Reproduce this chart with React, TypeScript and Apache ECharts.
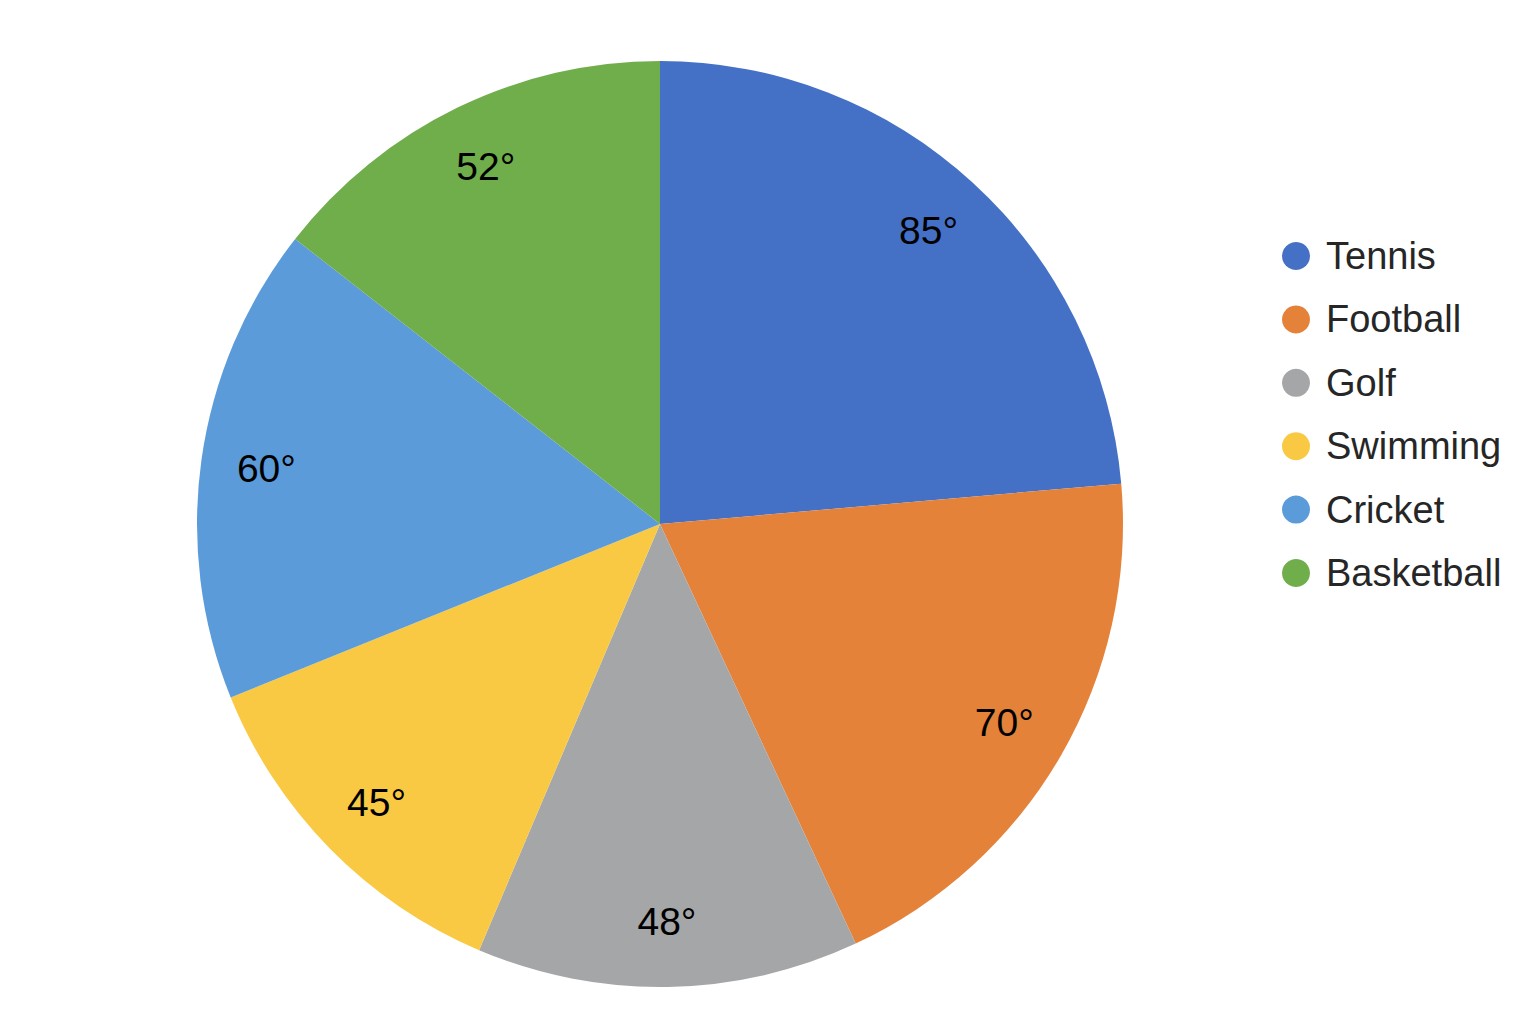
import React, { useEffect, useRef } from "react";
import * as echarts from "echarts";

const categories = ["Tennis", "Football", "Golf", "Swimming", "Cricket", "Basketball"];
const values = [85, 70, 48, 45, 60, 52];
const colors = ["#4470C6", "#E5823A", "#A5A6A8", "#F9C943", "#5B9BD9", "#70AD4B"];

export default function App() {
  const ref = useRef<HTMLDivElement>(null);
  useEffect(() => {
    if (!ref.current) return;
    const chart = echarts.init(ref.current, null, { renderer: "svg" });
    const pieData = categories.map((name, i) => ({
      name,
      value: values[i],
      itemStyle: { color: colors[i] },
    }));
    const labelData = categories.map((name, i) => ({
      name,
      value: values[i],
      itemStyle: { color: "rgba(0,0,0,0)" },
    }));
    chart.setOption({
      animation: false,
      backgroundColor: "#ffffff",
      legend: {
        orient: "vertical",
        left: 1277,
        top: 232,
        itemWidth: 28,
        itemHeight: 28,
        itemGap: 25.4,
        icon: "circle",
        selectedMode: false,
        data: categories.map((name, i) => ({ name, itemStyle: { color: colors[i] } })),
        textStyle: {
          fontFamily: "Liberation Sans, Arial, sans-serif",
          fontSize: 38,
          lineHeight: 38,
          color: "#262626",
          padding: [0, 0, 0, 11],
        },
      },
      series: [
        {
          type: "pie",
          center: [660, 524],
          radius: [0, 463],
          startAngle: 90,
          clockwise: true,
          silent: true,
          label: { show: false },
          labelLine: { show: false },
          data: pieData,
        },
        {
          type: "pie",
          center: [660, 524],
          radius: [326, 463],
          startAngle: 90,
          clockwise: true,
          silent: true,
          label: {
            show: true,
            position: "inside",
            formatter: (p: any) => `${p.value}°`,
            fontFamily: "Liberation Sans, Arial, sans-serif",
            fontSize: 39,
            color: "#000000",
          },
          labelLine: { show: false },
          data: labelData,
        },
      ],
    });
    return () => chart.dispose();
  }, []);
  return (
    <div
      ref={ref}
      style={{ position: "fixed", left: 0, top: 0, width: 1536, height: 1024 }}
    />
  );
}
